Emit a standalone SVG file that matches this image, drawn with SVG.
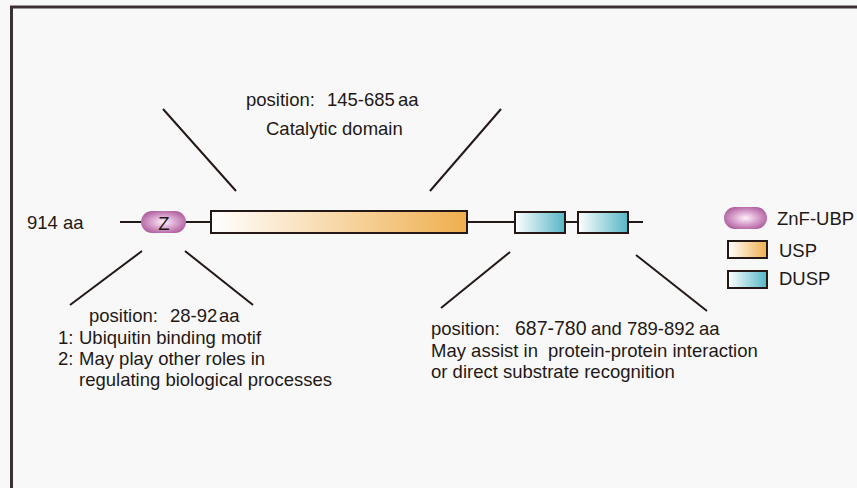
<svg xmlns="http://www.w3.org/2000/svg" width="857" height="488" viewBox="0 0 857 488">
  <defs>
    <radialGradient id="gZnf" cx="50%" cy="50%" r="55%">
      <stop offset="0" stop-color="#fdf3fb"/>
      <stop offset="0.4" stop-color="#e2b3d8"/>
      <stop offset="1" stop-color="#b0609f"/>
    </radialGradient>
    <linearGradient id="gUsp" x1="0" y1="0" x2="1" y2="0">
      <stop offset="0" stop-color="#ffffff"/>
      <stop offset="1" stop-color="#efaf4e"/>
    </linearGradient>
    <linearGradient id="gDusp" x1="0" y1="0" x2="1" y2="0">
      <stop offset="0" stop-color="#ffffff"/>
      <stop offset="1" stop-color="#55b6c6"/>
    </linearGradient>
    <style>
      text { font-family: "Liberation Sans", Arial, sans-serif; font-size: 18.5px; fill: #231815; }
      .ln { stroke: #231815; stroke-width: 2; fill: none; }
      .box { stroke: #231815; stroke-width: 2; }
    </style>
  </defs>

  <rect x="0" y="0" width="857" height="488" fill="#f8f8f8"/>
  <!-- frame -->
  <path d="M11.5 488 V7 H857" fill="none" stroke="#3a3032" stroke-width="3"/>

  <!-- backbone -->
  <g id="backbone">
    <line class="ln" x1="120" y1="222" x2="643" y2="222" stroke-width="3"/>
  </g>

  <!-- callout lines -->
  <g id="connectors">
    <line class="ln" x1="163" y1="109" x2="236" y2="191"/>
    <line class="ln" x1="501" y1="109" x2="430" y2="191"/>
    <line class="ln" x1="142" y1="251" x2="70" y2="305"/>
    <line class="ln" x1="185" y1="251" x2="253" y2="305"/>
    <line class="ln" x1="510" y1="252" x2="441" y2="308"/>
    <line class="ln" x1="636" y1="255" x2="707" y2="311"/>
  </g>

  <g id="znf">
    <rect x="141" y="211" width="45" height="22" rx="11" fill="url(#gZnf)"/>
    <text x="164" y="230" text-anchor="middle" font-size="22">Z</text>
  </g>
  <g id="usp">
    <rect class="box" x="211" y="211" width="256" height="22" fill="url(#gUsp)"/>
  </g>
  <g id="dusp1">
    <rect class="box" x="515" y="212" width="50" height="21" fill="url(#gDusp)"/>
  </g>
  <g id="dusp2">
    <rect class="box" x="578" y="212" width="50" height="21" fill="url(#gDusp)"/>
  </g>

  <g id="length-label">
    <text x="27" y="229" font-size="21">914 aa</text>
  </g>

  <g id="catalytic-label">
    <text x="246" y="106">position:<tspan x="327">145-685</tspan><tspan x="398">aa</tspan></text>
    <text x="266" y="135">Catalytic domain</text>
  </g>

  <g id="znf-label">
    <text x="89" y="322">position:<tspan x="170">28-92</tspan><tspan x="219">aa</tspan></text>
    <text x="58" y="344">1:<tspan x="79">Ubiquitin binding motif</tspan></text>
    <text x="58" y="365">2:<tspan x="79">May play other roles in</tspan></text>
    <text x="79" y="386">regulating biological processes</text>
  </g>

  <g id="dusp-label">
    <text x="431" y="335">position:<tspan x="515" font-size="19.5">687-780</tspan><tspan x="591">and</tspan><tspan x="627">789-892</tspan><tspan x="699">aa</tspan></text>
    <text x="431" y="357">May assist in<tspan x="548">protein-protein interaction</tspan></text>
    <text x="431" y="378">or direct substrate recognition</text>
  </g>

  <g id="legend">
    <rect x="724" y="207" width="43" height="22" rx="11" fill="url(#gZnf)"/>
    <text x="777" y="225">ZnF-UBP</text>
    <rect class="box" x="728" y="241" width="39" height="17" fill="url(#gUsp)"/>
    <text x="779" y="257">USP</text>
    <rect class="box" x="728" y="271" width="39" height="17" fill="url(#gDusp)"/>
    <text x="779" y="285">DUSP</text>
  </g>
</svg>
